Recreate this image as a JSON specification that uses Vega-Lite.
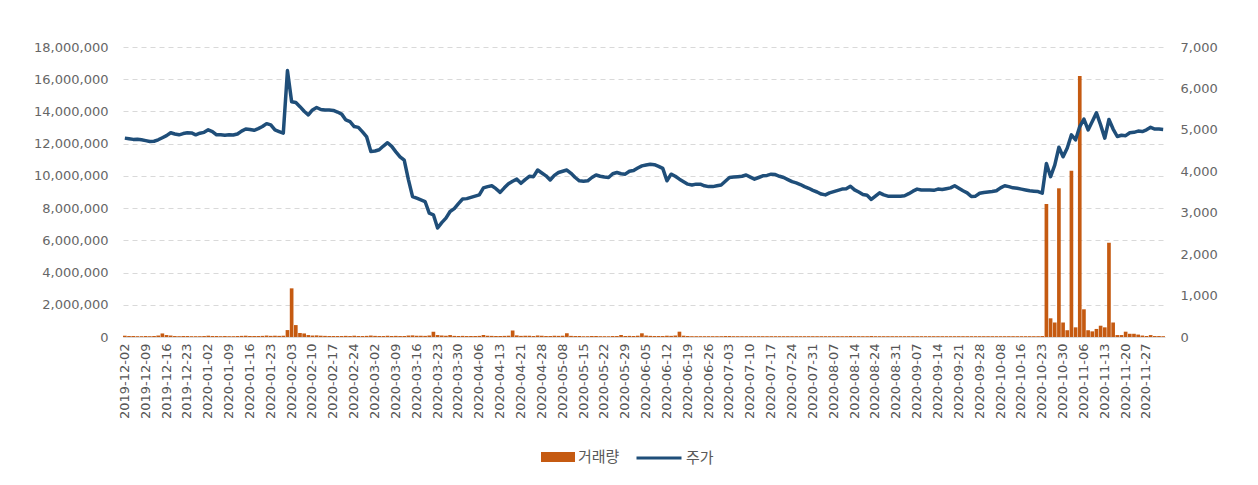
{
  "$schema": "https://vega.github.io/schema/vega-lite/v6.json",
  "width": 1042,
  "height": 290,
  "autosize": {"type": "none"},
  "padding": {"left": 123, "top": 47, "right": 93, "bottom": 148},
  "background": "white",
  "config": {
    "view": {"stroke": null},
    "font": "DejaVu Sans",
    "axis": {"labelFont": "DejaVu Sans", "labelFontSize": 13, "labelColor": "#666666", "ticks": false, "domain": false, "grid": false}
  },
  "data": {"values": [
    {"d":"2019-12-02","v":80000,"p":4800},{"d":"2019-12-03","v":60000,"p":4785},{"d":"2019-12-04","v":60000,"p":4770},{"d":"2019-12-05","v":50000,"p":4775},{"d":"2019-12-06","v":50000,"p":4760},
    {"d":"2019-12-09","v":60000,"p":4740},{"d":"2019-12-10","v":50000,"p":4720},{"d":"2019-12-11","v":60000,"p":4725},{"d":"2019-12-12","v":90000,"p":4760},{"d":"2019-12-13","v":220000,"p":4810},
    {"d":"2019-12-16","v":120000,"p":4860},{"d":"2019-12-17","v":90000,"p":4930},{"d":"2019-12-18","v":60000,"p":4900},{"d":"2019-12-19","v":50000,"p":4880},{"d":"2019-12-20","v":60000,"p":4910},
    {"d":"2019-12-23","v":60000,"p":4930},{"d":"2019-12-24","v":50000,"p":4925},{"d":"2019-12-26","v":50000,"p":4880},{"d":"2019-12-27","v":50000,"p":4920},{"d":"2019-12-30","v":60000,"p":4940},
    {"d":"2020-01-02","v":80000,"p":5000},{"d":"2020-01-03","v":60000,"p":4960},{"d":"2020-01-06","v":60000,"p":4880},{"d":"2020-01-07","v":50000,"p":4880},{"d":"2020-01-08","v":60000,"p":4870},
    {"d":"2020-01-09","v":50000,"p":4880},{"d":"2020-01-10","v":50000,"p":4875},{"d":"2020-01-13","v":60000,"p":4900},{"d":"2020-01-14","v":70000,"p":4970},{"d":"2020-01-15","v":80000,"p":5020},
    {"d":"2020-01-16","v":60000,"p":5010},{"d":"2020-01-17","v":60000,"p":4990},{"d":"2020-01-20","v":60000,"p":5030},{"d":"2020-01-21","v":70000,"p":5080},{"d":"2020-01-22","v":90000,"p":5150},
    {"d":"2020-01-23","v":70000,"p":5120},{"d":"2020-01-28","v":80000,"p":5000},{"d":"2020-01-29","v":70000,"p":4960},{"d":"2020-01-30","v":80000,"p":4920},{"d":"2020-01-31","v":430000,"p":6430},
    {"d":"2020-02-03","v":3020000,"p":5680},{"d":"2020-02-04","v":740000,"p":5660},{"d":"2020-02-05","v":250000,"p":5560},{"d":"2020-02-06","v":220000,"p":5450},{"d":"2020-02-07","v":120000,"p":5360},
    {"d":"2020-02-10","v":90000,"p":5480},{"d":"2020-02-11","v":100000,"p":5540},{"d":"2020-02-12","v":80000,"p":5490},{"d":"2020-02-13","v":70000,"p":5480},{"d":"2020-02-14","v":60000,"p":5480},
    {"d":"2020-02-17","v":60000,"p":5470},{"d":"2020-02-18","v":60000,"p":5430},{"d":"2020-02-19","v":60000,"p":5380},{"d":"2020-02-20","v":70000,"p":5240},{"d":"2020-02-21","v":60000,"p":5200},
    {"d":"2020-02-24","v":80000,"p":5080},{"d":"2020-02-25","v":60000,"p":5060},{"d":"2020-02-26","v":60000,"p":4950},{"d":"2020-02-27","v":70000,"p":4830},{"d":"2020-02-28","v":90000,"p":4480},
    {"d":"2020-03-02","v":70000,"p":4490},{"d":"2020-03-03","v":60000,"p":4520},{"d":"2020-03-04","v":60000,"p":4610},{"d":"2020-03-05","v":70000,"p":4690},{"d":"2020-03-06","v":60000,"p":4600},
    {"d":"2020-03-09","v":70000,"p":4470},{"d":"2020-03-10","v":60000,"p":4350},{"d":"2020-03-11","v":60000,"p":4270},{"d":"2020-03-12","v":90000,"p":3800},{"d":"2020-03-13","v":100000,"p":3390},
    {"d":"2020-03-16","v":80000,"p":3350},{"d":"2020-03-17","v":70000,"p":3310},{"d":"2020-03-18","v":70000,"p":3270},{"d":"2020-03-19","v":90000,"p":2990},{"d":"2020-03-20","v":330000,"p":2950},
    {"d":"2020-03-23","v":120000,"p":2630},{"d":"2020-03-24","v":90000,"p":2760},{"d":"2020-03-25","v":80000,"p":2870},{"d":"2020-03-26","v":120000,"p":3030},{"d":"2020-03-27","v":70000,"p":3100},
    {"d":"2020-03-30","v":60000,"p":3220},{"d":"2020-03-31","v":70000,"p":3330},{"d":"2020-04-01","v":60000,"p":3340},{"d":"2020-04-02","v":60000,"p":3370},{"d":"2020-04-03","v":60000,"p":3400},
    {"d":"2020-04-06","v":70000,"p":3430},{"d":"2020-04-07","v":120000,"p":3600},{"d":"2020-04-08","v":80000,"p":3630},{"d":"2020-04-09","v":70000,"p":3650},{"d":"2020-04-10","v":60000,"p":3580},
    {"d":"2020-04-13","v":60000,"p":3490},{"d":"2020-04-14","v":70000,"p":3600},{"d":"2020-04-16","v":80000,"p":3700},{"d":"2020-04-17","v":400000,"p":3760},{"d":"2020-04-20","v":100000,"p":3810},
    {"d":"2020-04-21","v":70000,"p":3710},{"d":"2020-04-22","v":70000,"p":3800},{"d":"2020-04-23","v":80000,"p":3880},{"d":"2020-04-24","v":60000,"p":3870},{"d":"2020-04-27","v":90000,"p":4030},
    {"d":"2020-04-28","v":70000,"p":3960},{"d":"2020-04-29","v":60000,"p":3890},{"d":"2020-05-04","v":60000,"p":3790},{"d":"2020-05-06","v":70000,"p":3900},{"d":"2020-05-07","v":70000,"p":3970},
    {"d":"2020-05-08","v":80000,"p":4000},{"d":"2020-05-11","v":230000,"p":4030},{"d":"2020-05-12","v":70000,"p":3950},{"d":"2020-05-13","v":60000,"p":3850},{"d":"2020-05-14","v":60000,"p":3770},
    {"d":"2020-05-15","v":50000,"p":3760},{"d":"2020-05-18","v":50000,"p":3770},{"d":"2020-05-19","v":60000,"p":3850},{"d":"2020-05-20","v":60000,"p":3910},{"d":"2020-05-21","v":50000,"p":3880},
    {"d":"2020-05-22","v":50000,"p":3860},{"d":"2020-05-25","v":50000,"p":3850},{"d":"2020-05-26","v":60000,"p":3940},{"d":"2020-05-27","v":60000,"p":3970},{"d":"2020-05-28","v":120000,"p":3940},
    {"d":"2020-05-29","v":60000,"p":3930},{"d":"2020-06-01","v":70000,"p":4000},{"d":"2020-06-02","v":60000,"p":4020},{"d":"2020-06-03","v":80000,"p":4080},{"d":"2020-06-04","v":230000,"p":4130},
    {"d":"2020-06-05","v":90000,"p":4150},{"d":"2020-06-08","v":70000,"p":4170},{"d":"2020-06-09","v":60000,"p":4160},{"d":"2020-06-10","v":60000,"p":4120},{"d":"2020-06-11","v":60000,"p":4070},
    {"d":"2020-06-12","v":80000,"p":3770},{"d":"2020-06-15","v":70000,"p":3930},{"d":"2020-06-16","v":90000,"p":3880},{"d":"2020-06-17","v":330000,"p":3810},{"d":"2020-06-18","v":80000,"p":3750},
    {"d":"2020-06-19","v":60000,"p":3690},{"d":"2020-06-22","v":50000,"p":3670},{"d":"2020-06-23","v":50000,"p":3690},{"d":"2020-06-24","v":50000,"p":3690},{"d":"2020-06-25","v":50000,"p":3650},
    {"d":"2020-06-26","v":50000,"p":3630},{"d":"2020-06-29","v":50000,"p":3630},{"d":"2020-06-30","v":50000,"p":3650},{"d":"2020-07-01","v":50000,"p":3670},{"d":"2020-07-02","v":60000,"p":3760},
    {"d":"2020-07-03","v":60000,"p":3850},{"d":"2020-07-06","v":50000,"p":3860},{"d":"2020-07-07","v":50000,"p":3870},{"d":"2020-07-08","v":50000,"p":3880},{"d":"2020-07-09","v":50000,"p":3910},
    {"d":"2020-07-10","v":50000,"p":3860},{"d":"2020-07-13","v":50000,"p":3810},{"d":"2020-07-14","v":50000,"p":3850},{"d":"2020-07-15","v":50000,"p":3890},{"d":"2020-07-16","v":50000,"p":3900},
    {"d":"2020-07-17","v":50000,"p":3930},{"d":"2020-07-20","v":50000,"p":3920},{"d":"2020-07-21","v":50000,"p":3880},{"d":"2020-07-22","v":50000,"p":3850},{"d":"2020-07-23","v":50000,"p":3800},
    {"d":"2020-07-24","v":50000,"p":3750},{"d":"2020-07-27","v":50000,"p":3720},{"d":"2020-07-28","v":50000,"p":3680},{"d":"2020-07-29","v":50000,"p":3630},{"d":"2020-07-30","v":50000,"p":3590},
    {"d":"2020-07-31","v":50000,"p":3540},{"d":"2020-08-03","v":50000,"p":3500},{"d":"2020-08-04","v":50000,"p":3450},{"d":"2020-08-05","v":50000,"p":3430},{"d":"2020-08-06","v":50000,"p":3480},
    {"d":"2020-08-07","v":50000,"p":3510},{"d":"2020-08-10","v":50000,"p":3540},{"d":"2020-08-11","v":50000,"p":3570},{"d":"2020-08-12","v":50000,"p":3580},{"d":"2020-08-13","v":60000,"p":3640},
    {"d":"2020-08-14","v":50000,"p":3550},{"d":"2020-08-18","v":50000,"p":3500},{"d":"2020-08-19","v":50000,"p":3440},{"d":"2020-08-20","v":50000,"p":3420},{"d":"2020-08-21","v":60000,"p":3320},
    {"d":"2020-08-24","v":50000,"p":3400},{"d":"2020-08-25","v":50000,"p":3480},{"d":"2020-08-26","v":50000,"p":3430},{"d":"2020-08-27","v":50000,"p":3400},{"d":"2020-08-28","v":50000,"p":3400},
    {"d":"2020-08-31","v":50000,"p":3400},{"d":"2020-09-01","v":50000,"p":3400},{"d":"2020-09-02","v":50000,"p":3410},{"d":"2020-09-03","v":50000,"p":3460},{"d":"2020-09-04","v":50000,"p":3520},
    {"d":"2020-09-07","v":50000,"p":3570},{"d":"2020-09-08","v":50000,"p":3550},{"d":"2020-09-09","v":50000,"p":3550},{"d":"2020-09-10","v":50000,"p":3550},{"d":"2020-09-11","v":50000,"p":3540},
    {"d":"2020-09-14","v":50000,"p":3570},{"d":"2020-09-15","v":50000,"p":3560},{"d":"2020-09-16","v":50000,"p":3580},{"d":"2020-09-17","v":50000,"p":3600},{"d":"2020-09-18","v":50000,"p":3650},
    {"d":"2020-09-21","v":50000,"p":3590},{"d":"2020-09-22","v":50000,"p":3530},{"d":"2020-09-23","v":50000,"p":3480},{"d":"2020-09-24","v":50000,"p":3390},{"d":"2020-09-25","v":50000,"p":3400},
    {"d":"2020-09-28","v":50000,"p":3470},{"d":"2020-09-29","v":50000,"p":3490},{"d":"2020-10-05","v":50000,"p":3500},{"d":"2020-10-06","v":50000,"p":3510},{"d":"2020-10-07","v":50000,"p":3530},
    {"d":"2020-10-08","v":50000,"p":3600},{"d":"2020-10-12","v":50000,"p":3650},{"d":"2020-10-13","v":50000,"p":3630},{"d":"2020-10-14","v":50000,"p":3600},{"d":"2020-10-15","v":50000,"p":3590},
    {"d":"2020-10-16","v":50000,"p":3570},{"d":"2020-10-19","v":50000,"p":3550},{"d":"2020-10-20","v":50000,"p":3530},{"d":"2020-10-21","v":50000,"p":3520},{"d":"2020-10-22","v":50000,"p":3510},
    {"d":"2020-10-23","v":60000,"p":3470},{"d":"2020-10-26","v":8250000,"p":4190},{"d":"2020-10-27","v":1160000,"p":3870},{"d":"2020-10-28","v":900000,"p":4150},{"d":"2020-10-29","v":9230000,"p":4580},
    {"d":"2020-10-30","v":900000,"p":4350},{"d":"2020-11-02","v":420000,"p":4560},{"d":"2020-11-03","v":10320000,"p":4880},{"d":"2020-11-04","v":600000,"p":4760},{"d":"2020-11-05","v":16200000,"p":5080},
    {"d":"2020-11-06","v":1720000,"p":5260},{"d":"2020-11-09","v":420000,"p":5000},{"d":"2020-11-10","v":350000,"p":5200},{"d":"2020-11-11","v":500000,"p":5410},{"d":"2020-11-12","v":700000,"p":5120},
    {"d":"2020-11-13","v":600000,"p":4800},{"d":"2020-11-16","v":5850000,"p":5250},{"d":"2020-11-17","v":900000,"p":5020},{"d":"2020-11-18","v":120000,"p":4840},{"d":"2020-11-19","v":120000,"p":4870},
    {"d":"2020-11-20","v":330000,"p":4860},{"d":"2020-11-23","v":200000,"p":4930},{"d":"2020-11-24","v":200000,"p":4940},{"d":"2020-11-25","v":150000,"p":4970},{"d":"2020-11-26","v":90000,"p":4960},
    {"d":"2020-11-27","v":60000,"p":5000},{"d":"2020-11-30","v":120000,"p":5060},{"d":"2020-12-01","v":60000,"p":5020},{"d":"2020-12-02","v":60000,"p":5020},{"d":"2020-12-03","v":50000,"p":5010}
  ]},
  "encoding": {
    "x": {
      "field": "d",
      "type": "ordinal",
      "title": null,
      "scale": {"paddingInner": 0.12, "paddingOuter": 0},
      "axis": {
        "labelAngle": -90,
        "labelPadding": 6,
        "labelOverlap": false,
        "labelColor": "#555555",
        "domain": true,
        "domainColor": "#d9d9d9",
        "values": ["2019-12-02","2019-12-09","2019-12-16","2019-12-23","2020-01-02","2020-01-09","2020-01-16","2020-01-23","2020-02-03","2020-02-10","2020-02-17","2020-02-24","2020-03-02","2020-03-09","2020-03-16","2020-03-23","2020-03-30","2020-04-06","2020-04-13","2020-04-21","2020-04-28","2020-05-08","2020-05-15","2020-05-22","2020-05-29","2020-06-05","2020-06-12","2020-06-19","2020-06-26","2020-07-03","2020-07-10","2020-07-17","2020-07-24","2020-07-31","2020-08-07","2020-08-14","2020-08-24","2020-08-31","2020-09-07","2020-09-14","2020-09-21","2020-09-28","2020-10-08","2020-10-16","2020-10-23","2020-10-30","2020-11-06","2020-11-13","2020-11-20","2020-11-27"]
      }
    }
  },
  "layer": [
    {
      "mark": {"type": "bar"},
      "encoding": {
        "y": {
          "field": "v",
          "type": "quantitative",
          "title": null,
          "scale": {"domain": [0, 18000000]},
          "axis": {
            "orient": "left",
            "values": [0, 2000000, 4000000, 6000000, 8000000, 10000000, 12000000, 14000000, 16000000, 18000000],
            "format": ",d",
            "labelPadding": 15,
            "grid": true,
            "gridColor": "#d9d9d9",
            "gridDash": [5, 4],
            "gridWidth": 1
          }
        },
        "fill": {
          "datum": "거래량",
          "scale": {"range": ["#C55A11"]},
          "legend": {
            "orient": "none",
            "legendX": 418,
            "legendY": 393,
            "title": null,
            "symbolType": "M-1,-0.29H1V0.29H-1Z",
            "symbolSize": 1156,
            "symbolStrokeWidth": 0,
            "labelFont": "Noto Sans CJK KR",
            "labelFontSize": 15,
            "labelColor": "#595959",
            "labelOffset": 3
          }
        }
      }
    },
    {
      "mark": {"type": "line", "strokeWidth": 3.5, "strokeJoin": "round"},
      "encoding": {
        "y": {
          "field": "p",
          "type": "quantitative",
          "title": null,
          "scale": {"domain": [0, 7000]},
          "axis": {
            "orient": "right",
            "values": [0, 1000, 2000, 3000, 4000, 5000, 6000, 7000],
            "format": ",d",
            "labelPadding": 15
          }
        },
        "stroke": {
          "datum": "주가",
          "scale": {"range": ["#1F4E79"]},
          "legend": {
            "orient": "none",
            "legendX": 512,
            "legendY": 387,
            "title": null,
            "symbolType": "stroke",
            "symbolSize": 2025,
            "symbolStrokeWidth": 3,
            "labelFont": "Noto Sans CJK KR",
            "labelFontSize": 15,
            "labelColor": "#595959",
            "labelOffset": 3
          }
        }
      }
    }
  ],
  "resolve": {"scale": {"y": "independent", "fill": "independent", "stroke": "independent"}}
}
